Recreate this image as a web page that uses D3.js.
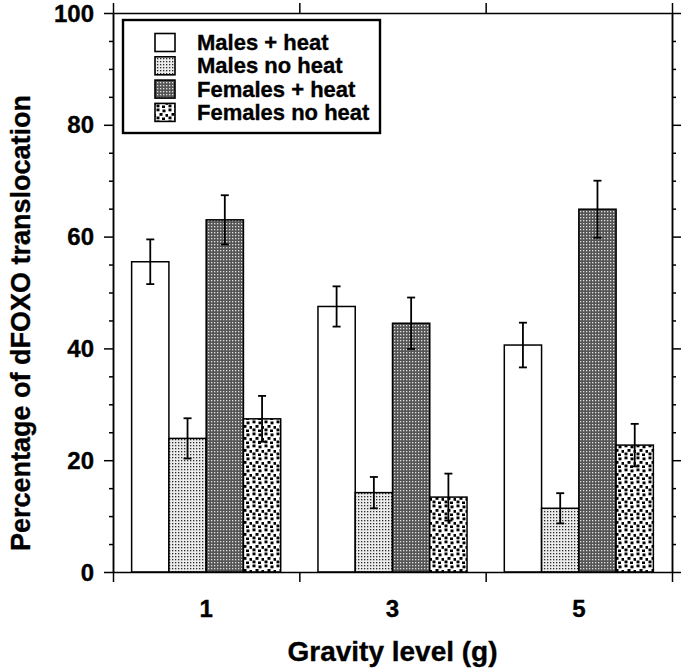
<!DOCTYPE html>
<html>
<head>
<meta charset="utf-8">
<script src="https://cdn.jsdelivr.net/npm/d3@7"></script>
<style>
  html, body { margin: 0; padding: 0; background: #fff; }
  svg { display: block; }
  text { font-family: "Liberation Sans", Arial, sans-serif; font-weight: bold; fill: #000; stroke: #000; stroke-width: 0.35px; }
</style>
</head>
<body>
<svg id="chart" width="685" height="671"></svg>
<script>
// ---- data ----
const gravityLevels = [1, 3, 5];
const xTickLabels = ["1", "3", "5"];
const seriesNames = ["Males + heat", "Males no heat", "Females + heat", "Females no heat"];
const malesHeat = [55.5, 47.5, 40.6];
const malesHeatErr = [4.0, 3.6, 4.0];
const malesNoHeat = [23.9, 14.2, 11.4];
const malesNoHeatErr = [3.6, 2.8, 2.7];
const femalesHeat = [63.0, 44.5, 64.9];
const femalesHeatErr = [4.4, 4.6, 5.1];
const femalesNoHeat = [27.4, 13.4, 22.7];
const femalesNoHeatErr = [4.1, 4.2, 3.8];
const yTicks = [0, 20, 40, 60, 80, 100];
const xTitle = "Gravity level (g)";
const yTitle = "Percentage of dFOXO translocation";

const seriesValues = [malesHeat, malesNoHeat, femalesHeat, femalesNoHeat];
const seriesErrs = [malesHeatErr, malesNoHeatErr, femalesHeatErr, femalesNoHeatErr];
const fills = ["#fff", "url(#pMNH)", "url(#pFH)", "url(#pFNH)"];

const svg = d3.select("#chart");
const x = d3.scaleLinear().domain([0, 6]).range([113, 672]);
const y = d3.scaleLinear().domain([0, 100]).range([572, 13]);
const barW = 0.4;

// ---- patterns ----
const defs = svg.append("defs");
const p1 = defs.append("pattern").attr("id", "pMNH").attr("patternUnits", "userSpaceOnUse")
  .attr("width", 3).attr("height", 3);
p1.append("rect").attr("width", 3).attr("height", 3).attr("fill", "#ececec");
p1.append("rect").attr("x", 1).attr("y", 1).attr("width", 1.3).attr("height", 1.3).attr("fill", "#2a2a2a");

const p2 = defs.append("pattern").attr("id", "pFH").attr("patternUnits", "userSpaceOnUse")
  .attr("width", 3).attr("height", 3);
p2.append("rect").attr("width", 3).attr("height", 3).attr("fill", "#555");
p2.append("rect").attr("x", 1).attr("y", 1).attr("width", 1.3).attr("height", 1.3).attr("fill", "#e0e0e0");

const p3 = defs.append("pattern").attr("id", "pFNH").attr("patternUnits", "userSpaceOnUse")
  .attr("width", 12).attr("height", 12);
p3.append("rect").attr("width", 12).attr("height", 12).attr("fill", "#fff");
[[0.5, 0.5], [6.5, 1.5], [3.5, 5], [9.5, 6], [0.5, 8.5], [6, 9.5]].forEach(([px, py]) => {
  p3.append("rect").attr("x", px).attr("y", py).attr("width", 3).attr("height", 2.8).attr("fill", "#000");
});

// ---- bars ----
const barData = [];
gravityLevels.forEach((g, gi) => {
  seriesValues.forEach((vals, si) => {
    barData.push({ g, si, v: vals[gi], e: seriesErrs[si][gi] });
  });
});
const bx0 = d => x(d.g - 0.8 + barW * d.si);
const bx1 = d => x(d.g - 0.8 + barW * (d.si + 1));

svg.append("g").selectAll("rect").data(barData).join("rect")
  .attr("x", bx0).attr("y", d => y(d.v))
  .attr("width", d => bx1(d) - bx0(d)).attr("height", d => y(0) - y(d.v))
  .attr("fill", d => fills[d.si]).attr("stroke", "#000").attr("stroke-width", 1.5);

// ---- error bars ----
const eb = svg.append("g").attr("stroke", "#000").attr("stroke-width", 1.8);
barData.forEach(d => {
  const cx = (bx0(d) + bx1(d)) / 2;
  eb.append("line").attr("x1", cx).attr("x2", cx).attr("y1", y(d.v + d.e)).attr("y2", y(d.v - d.e));
  eb.append("line").attr("x1", cx - 4).attr("x2", cx + 4).attr("y1", y(d.v + d.e)).attr("y2", y(d.v + d.e));
  eb.append("line").attr("x1", cx - 4).attr("x2", cx + 4).attr("y1", y(d.v - d.e)).attr("y2", y(d.v - d.e));
});

// ---- axes ----
const minorY = d3.range(0, 101, 5).filter(v => v % 20 !== 0);
const axStyle = g => { g.selectAll("path,line").attr("stroke", "#000").attr("stroke-width", 1.5); g.selectAll("text").remove(); };

// left
svg.append("g").attr("transform", `translate(${x(0)},0)`)
  .call(d3.axisLeft(y).tickValues(yTicks).tickSize(9).tickSizeOuter(0)).call(axStyle);
svg.append("g").attr("transform", `translate(${x(0)},0)`)
  .call(d3.axisLeft(y).tickValues(minorY).tickSize(4).tickSizeOuter(0)).call(axStyle);
// right
svg.append("g").attr("transform", `translate(${x(6)},0)`)
  .call(d3.axisRight(y).tickValues(yTicks).tickSize(9).tickSizeOuter(0)).call(axStyle);
svg.append("g").attr("transform", `translate(${x(6)},0)`)
  .call(d3.axisRight(y).tickValues(minorY).tickSize(4).tickSizeOuter(0)).call(axStyle);
// bottom & top
svg.append("g").attr("transform", `translate(0,${y(0)})`)
  .call(d3.axisBottom(x).tickValues([0, 2, 4, 6]).tickSize(10).tickSizeOuter(0)).call(axStyle);
svg.append("g").attr("transform", `translate(0,${y(100)})`)
  .call(d3.axisTop(x).tickValues([0, 2, 4, 6]).tickSize(10).tickSizeOuter(0)).call(axStyle);

// tick labels
svg.append("g").selectAll("text").data(yTicks).join("text")
  .attr("x", x(0) - 19).attr("y", d => y(d)).attr("dy", "0.36em")
  .attr("text-anchor", "end").attr("font-size", 24).text(d => d);
svg.append("g").selectAll("text").data(gravityLevels).join("text")
  .attr("x", d => x(d)).attr("y", 617)
  .attr("text-anchor", "middle").attr("font-size", 24).text((d, i) => xTickLabels[i]);

// titles
svg.append("text").attr("x", (x(0) + x(6)) / 2).attr("y", 661)
  .attr("text-anchor", "middle").attr("font-size", 28).text(xTitle);
svg.append("text").attr("transform", "translate(30,323) rotate(-90)")
  .attr("text-anchor", "middle").attr("font-size", 27).text(yTitle);

// ---- legend ----
const lg = svg.append("g");
lg.append("rect").attr("x", 123).attr("y", 20).attr("width", 257).attr("height", 113)
  .attr("fill", "#fff").attr("stroke", "#000").attr("stroke-width", 2.4);
seriesNames.forEach((name, i) => {
  const cy = 42.5 + i * 23.3;
  lg.append("rect").attr("x", 155).attr("y", cy - 9).attr("width", 20).attr("height", 18)
    .attr("fill", fills[i]).attr("stroke", "#000").attr("stroke-width", 1.6);
  lg.append("text").attr("x", 197).attr("y", cy + 7.5).attr("font-size", 22).text(name);
});
</script>
</body>
</html>
